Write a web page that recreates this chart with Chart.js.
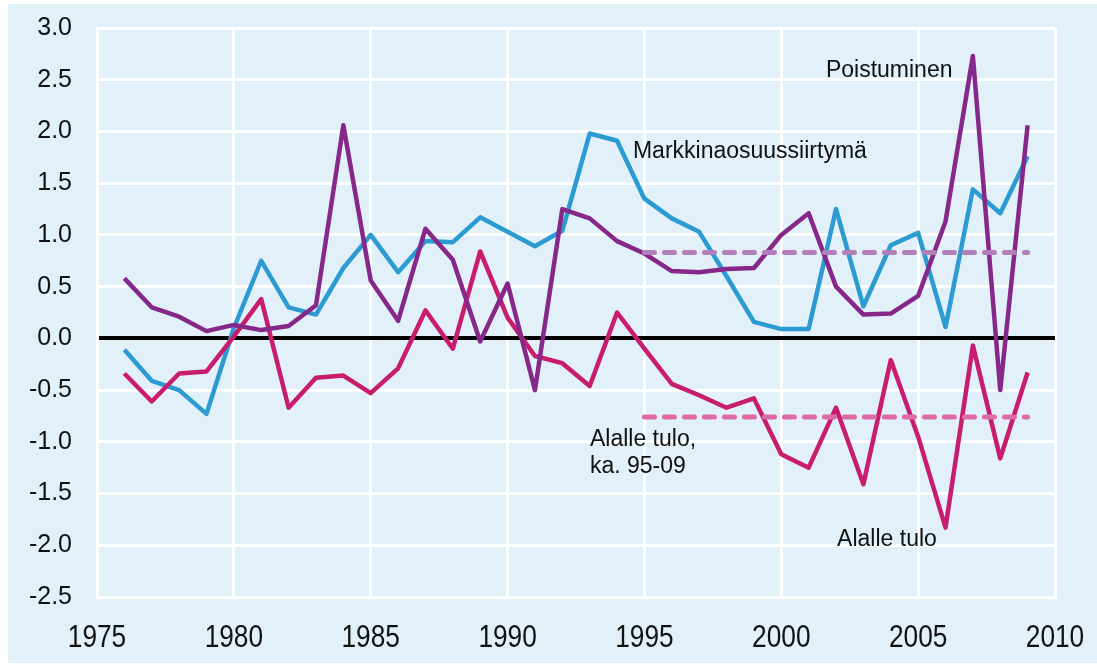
<!DOCTYPE html>
<html>
<head>
<meta charset="utf-8">
<script src="https://cdn.jsdelivr.net/npm/chart.js@4.4.1/dist/chart.umd.min.js"></script>
<style>
html,body{margin:0;padding:0;background:#ffffff;}
#wrap{position:absolute;left:0;top:0;width:1097px;height:665px;}
</style>
</head>
<body>
<div id="wrap"><canvas id="c" width="1097" height="665"></canvas></div>
<script>
// ---- data ----
const years = [1976,1977,1978,1979,1980,1981,1982,1983,1984,1985,1986,1987,1988,1989,1990,1991,1992,1993,1994,1995,1996,1997,1998,1999,2000,2001,2002,2003,2004,2005,2006,2007,2008,2009];
const markkinaosuus = [-0.11,-0.41,-0.50,-0.73,0.10,0.75,0.30,0.23,0.68,1.00,0.64,0.94,0.93,1.17,1.03,0.89,1.04,1.98,1.91,1.35,1.16,1.03,0.60,0.16,0.09,0.09,1.25,0.31,0.90,1.02,0.11,1.44,1.21,1.76];
const poistuminen = [0.58,0.30,0.21,0.07,0.13,0.08,0.12,0.32,2.06,0.56,0.17,1.06,0.76,-0.03,0.53,-0.50,1.25,1.16,0.94,0.82,0.65,0.64,0.67,0.68,1.00,1.21,0.50,0.23,0.24,0.41,1.13,2.73,-0.50,2.06];
const alalleTulo = [-0.34,-0.61,-0.34,-0.32,0.02,0.38,-0.67,-0.38,-0.36,-0.53,-0.29,0.27,-0.10,0.84,0.20,-0.17,-0.24,-0.46,0.25,-0.10,-0.44,-0.55,-0.67,-0.58,-1.12,-1.25,-0.67,-1.41,-0.21,-0.95,-1.83,-0.07,-1.16,-0.33];
const avgYears = [1995, 2009];
const poistuminenAvg = [0.83, 0.83];
const alalleTuloAvg = [-0.76, -0.76];
const xTicks = [1975,1980,1985,1990,1995,2000,2005,2010];
const yTicks = [3.0,2.5,2.0,1.5,1.0,0.5,0.0,-0.5,-1.0,-1.5,-2.0,-2.5];
// annotation texts with anchor positions in data units (year, value)
const annotations = [
  {text:'Poistuminen', x:2001.63, y:2.59},
  {text:'Markkinaosuussiirtymä', x:1994.58, y:1.80},
  {text:'Alalle tulo,', x:1993.01, y:-0.98},
  {text:'ka. 95-09', x:1993.01, y:-1.24},
  {text:'Alalle tulo', x:2002.04, y:-1.95}
];

const pts = (xs, ys) => xs.map((x,i)=>({x:x, y:ys[i]}));

const bgPlugin = {
  id:'bg',
  beforeDraw(chart){
    const ctx = chart.ctx;
    ctx.save();
    ctx.fillStyle = '#ffffff';
    ctx.fillRect(0,0,chart.width,chart.height);
    ctx.fillStyle = '#e2f0f9';
    ctx.fillRect(8,4,chart.width-8,659);
    ctx.restore();
  }
};
const annPlugin = {
  id:'ann',
  afterDatasetsDraw(chart){
    const ctx = chart.ctx, xs = chart.scales.x, ys = chart.scales.y;
    ctx.save();
    ctx.font = '23px "Liberation Sans", Arial, sans-serif';
    ctx.fillStyle = '#111111';
    ctx.textAlign = 'left';
    ctx.textBaseline = 'middle';
    annotations.forEach(a=>{
      ctx.fillText(a.text, xs.getPixelForValue(a.x), ys.getPixelForValue(a.y));
    });
    // condensed x-axis tick labels (real text, from the scale's ticks)
    ctx.font = '32px "Liberation Sans", Arial, sans-serif';
    ctx.textAlign = 'center';
    ctx.textBaseline = 'alphabetic';
    xs.ticks.forEach(t=>{
      const px = xs.getPixelForValue(t.value);
      ctx.save();
      ctx.translate(px, 647);
      ctx.scale(0.82, 1);
      ctx.fillText(String(t.value), 0, 0);
      ctx.restore();
    });
    ctx.restore();
  }
};

new Chart(document.getElementById('c'), {
  type:'line',
  data:{
    datasets:[
      {label:'Poistuminen ka.', data:pts(avgYears,poistuminenAvg), borderColor:'#b27fbb', borderWidth:5, borderDash:[10,10], borderCapStyle:'round', pointRadius:0, order:0},
      {label:'Alalle tulo ka.', data:pts(avgYears,alalleTuloAvg), borderColor:'#de6aa7', borderWidth:5, borderDash:[10,10], borderCapStyle:'round', pointRadius:0, order:1},
      {label:'Poistuminen', data:pts(years,poistuminen), borderColor:'#86288a', borderWidth:4.5, pointRadius:0, order:2},
      {label:'Alalle tulo', data:pts(years,alalleTulo), borderColor:'#c81d6f', borderWidth:4.5, pointRadius:0, order:3},
      {label:'Markkinaosuussiirtymä', data:pts(years,markkinaosuus), borderColor:'#2b9bd1', borderWidth:4.5, pointRadius:0, order:4}
    ]
  },
  options:{
    responsive:false,
    animation:false,
    events:[],
    layout:{padding:{left:0,top:28,right:42,bottom:0}},
    plugins:{legend:{display:false}, tooltip:{enabled:false}},
    elements:{line:{tension:0, borderJoinStyle:'round', borderCapStyle:'butt'}},
    scales:{
      x:{
        type:'linear', min:1975, max:2010,
        afterBuildTicks(s){ s.ticks = xTicks.map(v=>({value:v})); },
        afterFit(s){ s.height = 68; s.paddingLeft = 0; s.paddingRight = 0; },
        grid:{color:'#ffffff', lineWidth:3, drawTicks:false},
        border:{display:true, color:'#ffffff', width:3},
        ticks:{display:false}
      },
      y:{
        type:'linear', min:-2.5, max:3.0,
        afterBuildTicks(s){ s.ticks = yTicks.map(v=>({value:v})); },
        afterFit(s){ s.width = 97; s.paddingTop = 0; s.paddingBottom = 0; },
        grid:{color:c=>c.tick && c.tick.value===0 ? '#000000' : '#ffffff', lineWidth:c=>c.tick && c.tick.value===0 ? 4 : 3, drawTicks:false},
        border:{display:true, color:'#ffffff', width:3},
        ticks:{padding:25, color:'#111111', font:{family:'"Liberation Sans", Arial, sans-serif', size:25}, callback:v=>Number(v).toFixed(1)}
      }
    }
  },
  plugins:[bgPlugin, annPlugin]
});
</script>
</body>
</html>
